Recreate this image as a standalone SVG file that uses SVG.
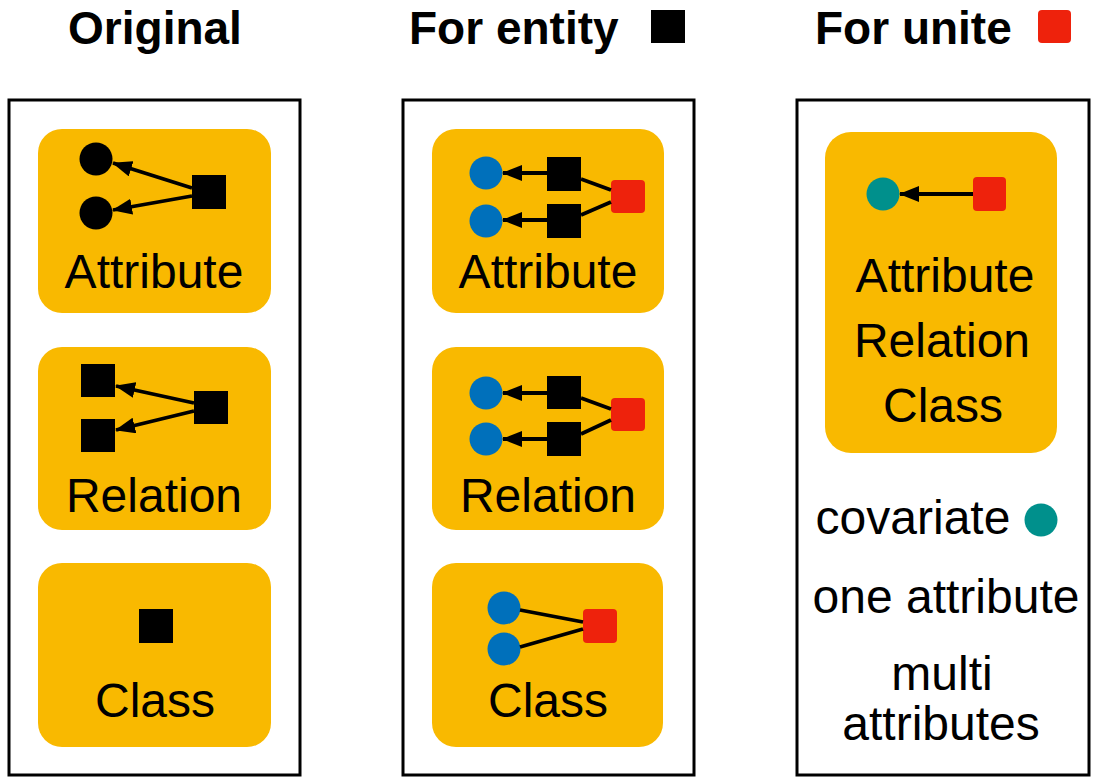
<svg xmlns="http://www.w3.org/2000/svg" width="1096" height="784" viewBox="0 0 1096 784">
<style>
.title{font-family:"Liberation Sans",Arial,sans-serif;font-weight:bold;font-size:46px;fill:#000}
.lbl{font-family:"Liberation Sans",Arial,sans-serif;font-size:48px;fill:#000;text-anchor:middle}
.frame{fill:#fff;stroke:#000;stroke-width:3}
.card{fill:#F9B900}
.ent{fill:#000}
.unite{fill:#EE220C}
.cov{fill:#0070BB}
.teal{fill:#00908C}
.edge{stroke:#000;stroke-width:3.8;fill:none}
.arr{marker-end:url(#ah)}
</style>
<defs>
<marker id="ah" markerUnits="userSpaceOnUse" markerWidth="20" markerHeight="16" refX="19" refY="8" orient="auto">
<path d="M0,0 L20,8 L0,16 z" fill="#000"/>
</marker>
</defs>
<rect width="1096" height="784" fill="#fff"/>

<g id="titles">
<text class="title" x="155" y="44" text-anchor="middle">Original</text>
<text class="title" x="409" y="44">For entity</text>
<rect class="ent" x="651" y="10" width="34" height="33"/>
<text class="title" x="815" y="44">For unite</text>
<rect class="unite" x="1038" y="10" width="33" height="33" rx="4"/>
</g>

<g id="frames">
<rect class="frame" x="9" y="100" width="291" height="675"/>
<rect class="frame" x="403" y="100" width="291" height="675"/>
<rect class="frame" x="797" y="100" width="292" height="675"/>
</g>

<g id="orig-attribute">
<rect class="card" x="38" y="129" width="233" height="184" rx="24"/>
<circle class="ent" cx="96" cy="159" r="16.5"/>
<circle class="ent" cx="96" cy="213" r="16.5"/>
<rect class="ent" x="192" y="175" width="34" height="34"/>
<text class="lbl" x="154" y="288">Attribute</text>
</g>

<g id="orig-relation">
<rect class="card" x="38" y="347" width="233" height="183" rx="24"/>
<rect class="ent" x="81" y="364" width="34" height="33"/>
<rect class="ent" x="81" y="419" width="34" height="33"/>
<rect class="ent" x="194" y="391" width="34" height="33"/>
<text class="lbl" x="154" y="512">Relation</text>
</g>

<g id="orig-class">
<rect class="card" x="38" y="563" width="233" height="184" rx="24"/>
<rect class="ent" x="139" y="609" width="34" height="34"/>
<text class="lbl" x="155" y="717">Class</text>
</g>

<g id="ent-attribute">
<rect class="card" x="432" y="129" width="232" height="184" rx="24"/>
<circle class="cov" cx="486" cy="173" r="16.5"/>
<circle class="cov" cx="486" cy="221" r="16.5"/>
<rect class="ent" x="547" y="157" width="34" height="34"/>
<rect class="ent" x="547" y="204" width="34" height="34"/>
<rect class="unite" x="611" y="180" width="34" height="33" rx="4"/>
<text class="lbl" x="548" y="288">Attribute</text>
</g>

<g id="ent-relation">
<rect class="card" x="432" y="347" width="232" height="183" rx="24"/>
<circle class="cov" cx="486" cy="393" r="16.5"/>
<circle class="cov" cx="486" cy="439" r="16.5"/>
<rect class="ent" x="547" y="376" width="34" height="33"/>
<rect class="ent" x="547" y="422" width="34" height="34"/>
<rect class="unite" x="611" y="398" width="34" height="33" rx="4"/>
<text class="lbl" x="548" y="512">Relation</text>
</g>

<g id="ent-class">
<rect class="card" x="432" y="563" width="231" height="184" rx="24"/>
<circle class="cov" cx="504" cy="608" r="16.5"/>
<circle class="cov" cx="504" cy="649" r="16.5"/>
<rect class="unite" x="583" y="609" width="34" height="34" rx="4"/>
<text class="lbl" x="548" y="717">Class</text>
</g>

<g id="unite-all">
<rect class="card" x="825" y="132" width="232" height="321" rx="26"/>
<circle class="teal" cx="883" cy="194" r="16.5"/>
<rect class="unite" x="973" y="177" width="33" height="34" rx="4"/>
<text class="lbl" x="945" y="292">Attribute</text>
<text class="lbl" x="942" y="357">Relation</text>
<text class="lbl" x="943" y="422">Class</text>
</g>

<g id="legend">
<text class="lbl" x="913" y="534">covariate</text>
<circle class="teal" cx="1041" cy="520" r="16.5"/>
<text class="lbl" x="946" y="613">one attribute</text>
<text class="lbl" x="942" y="690">multi</text>
<text class="lbl" x="941" y="740">attributes</text>
</g>

<g id="connectors">
<line class="edge arr" x1="192" y1="188" x2="113" y2="163"/>
<line class="edge arr" x1="192" y1="196" x2="113" y2="210"/>
<line class="edge arr" x1="194" y1="403" x2="116" y2="386"/>
<line class="edge arr" x1="194" y1="411" x2="116" y2="430"/>
<line class="edge arr" x1="547" y1="173" x2="503" y2="173"/>
<line class="edge arr" x1="547" y1="220" x2="503" y2="220"/>
<line class="edge" x1="581" y1="179" x2="611" y2="190"/>
<line class="edge" x1="581" y1="215" x2="611" y2="202"/>
<line class="edge arr" x1="547" y1="393" x2="503" y2="393"/>
<line class="edge arr" x1="547" y1="439" x2="503" y2="439"/>
<line class="edge" x1="581" y1="398" x2="611" y2="409"/>
<line class="edge" x1="581" y1="434" x2="611" y2="420"/>
<line class="edge" x1="520" y1="610" x2="583" y2="622"/>
<line class="edge" x1="520" y1="647" x2="583" y2="629"/>
<line class="edge arr" x1="973" y1="194" x2="900" y2="194"/>
</g>
</svg>
